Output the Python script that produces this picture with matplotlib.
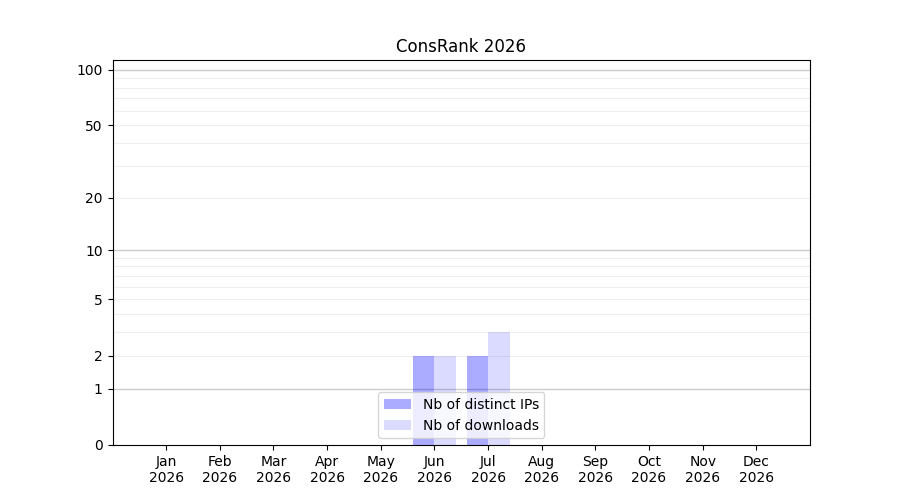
import numpy as np
import matplotlib
matplotlib.use('Agg')
import matplotlib.pyplot as plt

# Monthly stats for the package
months = ['Jan', 'Feb', 'Mar', 'Apr', 'May', 'Jun',
          'Jul', 'Aug', 'Sep', 'Oct', 'Nov', 'Dec']
year = 2026
distinct_ips = [0, 0, 0, 0, 0, 2, 2, 0, 0, 0, 0, 0]
downloads = [0, 0, 0, 0, 0, 2, 3, 0, 0, 0, 0, 0]
y_ticks = [0, 1, 2, 5, 10, 20, 50, 100]


def fwd(y):
    return np.log10(1 + np.clip(y, 0, None))


def inv(y):
    return 10 ** y - 1


x = np.arange(len(months))
width = 0.4

fig, ax = plt.subplots(figsize=(9, 5), dpi=100)
ax.set_yscale('function', functions=(fwd, inv))

ax.bar(x - width, distinct_ips, width, align='edge', color='blue', alpha=0.33,
       label='Nb of distinct IPs')
ax.bar(x, downloads, width, align='edge', color='blue', alpha=0.14,
       label='Nb of downloads')

# grid lines: darker on decades, faint in between
for v in [1, 10, 100]:
    ax.axhline(v, color='#cccccc', lw=1, zorder=0)
for v in [2, 3, 4, 5, 6, 7, 8, 9, 20, 30, 40, 50, 60, 70, 80, 90]:
    ax.axhline(v, color='#efefef', lw=0.8, zorder=0)

ax.set_ylim(0, 113)
ax.set_yticks(y_ticks)
ax.set_yticklabels([str(t) for t in y_ticks])
ax.yaxis.set_minor_locator(matplotlib.ticker.NullLocator())

ax.set_xlim(-1, len(months))
ax.set_xticks(x)
ax.set_xticklabels([f'{m}\n{year}' for m in months])

ax.set_title(f'ConsRank {year}')
ax.legend(loc='lower center')

plt.savefig('out.png')
plt.close()
